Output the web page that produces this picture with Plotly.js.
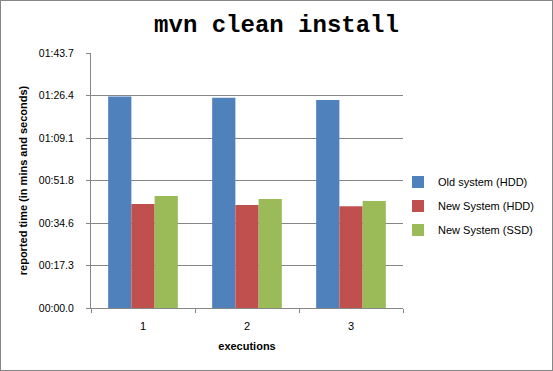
<!DOCTYPE html>
<html>
<head>
<meta charset="utf-8">
<script src="https://cdn.plot.ly/plotly-3.0.1.min.js"></script>
<style>
html, body { margin: 0; padding: 0; background: #fff; }
#chart { width: 551px; height: 369px; border: 1px solid #868686; }
</style>
</head>
<body>
<div id="chart"></div>
<script>
// Data (seconds)
const categories = ["1", "2", "3"];
const seriesNames = ["Old system (HDD)", "New System (HDD)", "New System (SSD)"];
const oldHDD = [86.0, 85.5, 84.6];
const newHDD = [42.3, 41.9, 41.4];
const newSSD = [45.5, 44.3, 43.5];
const yTickVals = [0, 17.28, 34.56, 51.84, 69.12, 86.4, 103.68];
const yTickText = ["00:00.0", "00:17.3", "00:34.6", "00:51.8", "01:09.1", "01:26.4", "01:43.7"];
const colors = ["#4F81BD", "#C0504D", "#9BBB59"];

const seriesValues = [oldHDD, newHDD, newSSD];
const traces = seriesValues.map((vals, i) => ({
  type: "bar",
  x: categories,
  y: vals,
  name: seriesNames[i],
  legendgroup: "g" + i,
  marker: { color: colors[i], line: { width: 0 } },
  hoverinfo: "skip"
}));

const axisGray = "#868686";
const layout = {
  width: 551,
  height: 369,
  margin: { l: 90, r: 149, t: 52, b: 62, pad: 0 },
  paper_bgcolor: "#ffffff",
  plot_bgcolor: "#ffffff",
  font: { family: "Liberation Sans, Arial, sans-serif", size: 11, color: "#000000" },
  title: {
    text: "<b>mvn clean install</b>",
    font: { family: "Liberation Mono, Courier New, monospace", size: 24, color: "#000000" },
    x: 0.5, xref: "container", xanchor: "center",
    y: 1 - 23 / 369, yref: "container", yanchor: "middle"
  },
  barmode: "group",
  bargap: 0.33,
  bargroupgap: 0,
  showlegend: true,
  legend: {
    x: 0.984, xanchor: "left", y: 0.551, yanchor: "top",
    traceorder: "grouped",
    tracegroupgap: 5,
    font: { family: "Liberation Sans, Arial, sans-serif", size: 11, color: "#000000" },
    bgcolor: "rgba(0,0,0,0)",
    borderwidth: 0
  },
  xaxis: {
    type: "category",
    showline: true, linecolor: axisGray, linewidth: 1,
    ticks: "outside", tickson: "boundaries", ticklen: 4, tickcolor: axisGray, tickwidth: 1,
    ticklabelstandoff: 8,
    tickfont: { size: 11, color: "#000000" },
    showgrid: false, zeroline: false,
    title: { text: "<b>executions</b>", font: { size: 11, color: "#000000" }, standoff: 11 }
  },
  yaxis: {
    range: [0, 103.68],
    tickmode: "array", tickvals: yTickVals, ticktext: yTickText,
    showline: true, linecolor: axisGray, linewidth: 1,
    ticks: "outside", ticklen: 4, tickcolor: axisGray, tickwidth: 1,
    ticklabelstandoff: 10,
    tickfont: { size: 10.5, color: "#000000" },
    showgrid: true, gridcolor: axisGray, gridwidth: 1,
    zeroline: false,
    title: { text: "<b>reported time (in mins and seconds)</b>", font: { size: 11, color: "#000000" }, standoff: 9 }
  }
};

Plotly.newPlot("chart", traces, layout, { staticPlot: true, displayModeBar: false });
</script>
</body>
</html>
